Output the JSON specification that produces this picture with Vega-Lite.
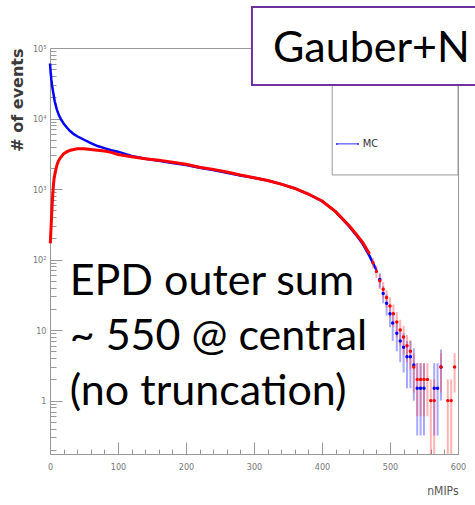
{
  "$schema": "https://vega.github.io/schema/vega-lite/v6.json",
  "width": 408,
  "height": 406,
  "autosize": {"type": "none"},
  "padding": {"left": 50, "top": 48, "right": 17, "bottom": 51},
  "background": "white",
  "config": {"view": {"stroke": "#999", "strokeWidth": 1}},
  "datasets": {
    "mc": [
      {"x":0,"y":60300},{"x":1,"y":44700},{"x":2,"y":35500},{"x":3,"y":29500},{"x":5,"y":22400},{"x":7,"y":17400},{"x":10,"y":13500},{"x":13,"y":11200},{"x":16,"y":9800},{"x":20,"y":8500},{"x":25,"y":7400},{"x":30,"y":6600},{"x":35,"y":6000},{"x":40,"y":5600},{"x":50,"y":5000},{"x":60,"y":4470},{"x":70,"y":4070},{"x":80,"y":3800},{"x":90,"y":3550},{"x":100,"y":3390},{"x":120,"y":2950},{"x":140,"y":2690},{"x":160,"y":2510},{"x":180,"y":2340},{"x":200,"y":2190},{"x":220,"y":2000},{"x":240,"y":1860},{"x":260,"y":1700},{"x":280,"y":1550},{"x":300,"y":1450},{"x":320,"y":1320},{"x":340,"y":1175},{"x":360,"y":1020},{"x":380,"y":850},{"x":400,"y":676},{"x":420,"y":479},{"x":440,"y":295},{"x":450,"y":224},{"x":460,"y":166},{"x":470,"y":112},{"x":480,"y":71}
    ],
    "dat": [
      {"x":0.5,"y":170},{"x":1,"y":220},{"x":2,"y":355},{"x":3,"y":560},{"x":4,"y":830},{"x":5,"y":1120},{"x":6,"y":1410},{"x":8,"y":1780},{"x":10,"y":2140},{"x":12,"y":2450},{"x":15,"y":2750},{"x":20,"y":3160},{"x":25,"y":3390},{"x":30,"y":3550},{"x":40,"y":3720},{"x":50,"y":3720},{"x":60,"y":3630},{"x":70,"y":3550},{"x":80,"y":3470},{"x":90,"y":3310},{"x":100,"y":3090},{"x":120,"y":2880},{"x":140,"y":2690},{"x":160,"y":2570},{"x":180,"y":2400},{"x":200,"y":2240},{"x":220,"y":2040},{"x":240,"y":1900},{"x":260,"y":1740},{"x":280,"y":1580},{"x":300,"y":1450},{"x":320,"y":1320},{"x":340,"y":1175},{"x":360,"y":1020},{"x":380,"y":850},{"x":400,"y":676},{"x":420,"y":479},{"x":440,"y":302},{"x":450,"y":230},{"x":460,"y":174},{"x":470,"y":120}
    ],
    "mcTail": [
      {"x":485,"y":52,"lo":40,"hi":64},{"x":490,"y":33,"lo":24,"hi":42},{"x":495,"y":24,"lo":16,"hi":32},{"x":500,"y":17,"lo":11,"hi":23},{"x":504,"y":12.6,"lo":7,"hi":18},{"x":510,"y":9,"lo":5,"hi":13},{"x":515,"y":7,"lo":3.5,"hi":10.5},{"x":520,"y":5.7,"lo":2.5,"hi":9},{"x":525,"y":4.2,"lo":1.5,"hi":7},{"x":530,"y":4.2,"lo":1.5,"hi":7},{"x":535,"y":3.2,"lo":1,"hi":5.5},{"x":540,"y":1.5,"lo":0.32,"hi":3.4},{"x":545,"y":1.5,"lo":0.32,"hi":3.4},{"x":550,"y":1.5,"lo":0.32,"hi":3.4},{"x":565,"y":1.5,"lo":0.32,"hi":3.4},{"x":570,"y":1.5,"lo":0.32,"hi":3.4},{"x":575,"y":3,"lo":1,"hi":5.3}
    ],
    "datTail": [
      {"x":475,"y":90,"lo":75,"hi":105},{"x":480,"y":68,"lo":55,"hi":82},{"x":485,"y":50,"lo":38,"hi":62},{"x":490,"y":38,"lo":28,"hi":48},{"x":495,"y":29,"lo":21,"hi":37},{"x":500,"y":22,"lo":15,"hi":29},{"x":505,"y":17,"lo":11,"hi":23},{"x":510,"y":13,"lo":8,"hi":18},{"x":515,"y":10,"lo":6,"hi":14},{"x":520,"y":8,"lo":4.5,"hi":11.5},{"x":525,"y":6,"lo":3.5,"hi":8.5},{"x":530,"y":5,"lo":2.8,"hi":7.2},{"x":535,"y":3,"lo":1.3,"hi":4.7},{"x":540,"y":2,"lo":0.6,"hi":3.4},{"x":545,"y":2,"lo":0.6,"hi":3.4},{"x":550,"y":2,"lo":0.6,"hi":3.4},{"x":555,"y":2,"lo":0.6,"hi":3.4},{"x":560,"y":1,"lo":0.01,"hi":2},{"x":565,"y":1,"lo":0.01,"hi":2},{"x":575,"y":3,"lo":1.3,"hi":4.7},{"x":585,"y":1,"lo":0.01,"hi":2},{"x":590,"y":1,"lo":0.01,"hi":2},{"x":595,"y":3,"lo":1.3,"hi":4.7}
    ],
    "notes": [
      {"x":29,"y":31.4,"t":"EPD outer sum"},{"x":29,"y":5.2,"t":"~ 550 @ central"},{"x":29,"y":0.863,"t":"(no truncation)"}
    ],
    "legendBox": [{"x":415,"x2":600,"y":1585,"y2":60000}],
    "legendLine": [{"x":422,"y":4370},{"x":453,"y":4370}],
    "legendLabel": [{"x":460,"y":4370,"t":"MC"}],
    "titleBox": [{"x":297,"x2":640,"y":29900,"y2":380000}],
    "titleText": [{"x":328,"y":63000,"t":"Gauber+N"}]
  },
  "resolve": {"axis": {"x": "independent", "y": "independent"}},
  "layer": [
    {
      "data": {"name": "mc"},
      "mark": {"type": "line", "color": "#0000ff", "strokeWidth": 2.5},
      "encoding": {
        "x": {"field": "x", "type": "quantitative", "scale": {"domain": [0, 600], "nice": false, "zero": false},
          "axis": {"orient": "bottom", "values": [0,100,200,300,400,500,600], "tickSize": -12, "labelPadding": 20, "labelFlush": false, "labelOverlap": false, "grid": false,
            "labelFont": "DejaVu Sans Condensed", "labelFontSize": 9, "labelColor": "#777", "domainColor": "#999", "tickColor": "#999",
            "title": "nMIPs", "titleFont": "DejaVu Sans Condensed", "titleFontSize": 12, "titleFontWeight": "normal", "titleColor": "#555", "titleAnchor": "end", "titlePadding": 14}},
        "y": {"field": "y", "type": "quantitative", "scale": {"type": "log", "domain": [0.175, 100000], "nice": false},
          "axis": {"orient": "left", "values": [1,10,100,1000,10000,100000], "tickSize": -12, "labelPadding": 16, "labelFlush": false, "labelOverlap": false, "grid": false,
            "labelExpr": "datum.value >= 99999 ? '10⁵' : datum.value >= 9999 ? '10⁴' : datum.value >= 999 ? '10³' : datum.value >= 99 ? '10²' : datum.value >= 9 ? '10' : '1'",
            "labelFont": "DejaVu Sans Condensed", "labelFontSize": 9, "labelColor": "#777", "domainColor": "#999", "tickColor": "#999",
            "title": "# of events", "titleFont": "DejaVu Sans", "titleFontSize": 16, "titleFontWeight": "bold", "titleColor": "#3a3a3a", "titleAnchor": "end", "titlePadding": 7}}
      }
    },
    {
      "data": {"name": "dat"},
      "mark": {"type": "line", "color": "#ff0000", "strokeWidth": 3},
      "encoding": {
        "x": {"field": "x", "type": "quantitative", "scale": {"domain": [0, 600], "nice": false, "zero": false},
          "axis": {"orient": "bottom", "values": [20,40,60,80,120,140,160,180,220,240,260,280,320,340,360,380,420,440,460,480,520,540,560,580], "tickSize": -5, "labels": false, "domain": false, "grid": false, "tickColor": "#999", "title": null}},
        "y": {"field": "y", "type": "quantitative", "scale": {"type": "log", "domain": [0.175, 100000], "nice": false},
          "axis": {"orient": "left", "values": [0.2,0.3,0.4,0.5,0.6,0.7,0.8,0.9,2,3,4,5,6,7,8,9,20,30,40,50,60,70,80,90,200,300,400,500,600,700,800,900,2000,3000,4000,5000,6000,7000,8000,9000,20000,30000,40000,50000,60000,70000,80000,90000], "tickSize": -6, "labels": false, "domain": false, "grid": false, "tickColor": "#999", "title": null}}
      }
    },
    {
      "data": {"name": "mcTail"},
      "mark": {"type": "rule", "color": "#4040ff", "opacity": 0.45, "strokeWidth": 2, "clip": true},
      "encoding": {
        "x": {"field": "x", "type": "quantitative", "scale": {"domain": [0, 600], "nice": false, "zero": false}, "axis": null},
        "y": {"field": "lo", "type": "quantitative", "scale": {"type": "log", "domain": [0.175, 100000], "nice": false}, "axis": null},
        "y2": {"field": "hi"}
      }
    },
    {
      "data": {"name": "datTail"},
      "mark": {"type": "rule", "color": "#ff4040", "opacity": 0.4, "strokeWidth": 2, "clip": true},
      "encoding": {
        "x": {"field": "x", "type": "quantitative", "scale": {"domain": [0, 600], "nice": false, "zero": false}, "axis": null},
        "y": {"field": "lo", "type": "quantitative", "scale": {"type": "log", "domain": [0.175, 100000], "nice": false}, "axis": null},
        "y2": {"field": "hi"}
      }
    },
    {
      "data": {"name": "mcTail"},
      "mark": {"type": "point", "filled": true, "color": "#0000ff", "size": 12, "opacity": 1},
      "encoding": {
        "x": {"field": "x", "type": "quantitative", "scale": {"domain": [0, 600], "nice": false, "zero": false}, "axis": null},
        "y": {"field": "y", "type": "quantitative", "scale": {"type": "log", "domain": [0.175, 100000], "nice": false}, "axis": null}
      }
    },
    {
      "data": {"name": "datTail"},
      "mark": {"type": "point", "filled": true, "color": "#ff0000", "size": 12, "opacity": 1},
      "encoding": {
        "x": {"field": "x", "type": "quantitative", "scale": {"domain": [0, 600], "nice": false, "zero": false}, "axis": null},
        "y": {"field": "y", "type": "quantitative", "scale": {"type": "log", "domain": [0.175, 100000], "nice": false}, "axis": null}
      }
    },
    {
      "data": {"name": "notes"},
      "mark": {"type": "text", "font": "Lato", "fontSize": 43, "align": "left", "baseline": "alphabetic", "color": "black"},
      "encoding": {
        "x": {"field": "x", "type": "quantitative", "scale": {"domain": [0, 600], "nice": false, "zero": false}, "axis": null},
        "y": {"field": "y", "type": "quantitative", "scale": {"type": "log", "domain": [0.175, 100000], "nice": false}, "axis": null},
        "text": {"field": "t"}
      }
    },
    {
      "data": {"name": "legendBox"},
      "mark": {"type": "rect", "fill": "white", "stroke": "#999", "strokeWidth": 1},
      "encoding": {
        "x": {"field": "x", "type": "quantitative", "scale": {"domain": [0, 600], "nice": false, "zero": false}, "axis": null},
        "x2": {"field": "x2"},
        "y": {"field": "y", "type": "quantitative", "scale": {"type": "log", "domain": [0.175, 100000], "nice": false}, "axis": null},
        "y2": {"field": "y2"}
      }
    },
    {
      "data": {"name": "legendLine"},
      "mark": {"type": "line", "color": "#3030ff", "strokeWidth": 1, "point": {"filled": true, "color": "#3030ff", "size": 4}},
      "encoding": {
        "x": {"field": "x", "type": "quantitative", "scale": {"domain": [0, 600], "nice": false, "zero": false}, "axis": null},
        "y": {"field": "y", "type": "quantitative", "scale": {"type": "log", "domain": [0.175, 100000], "nice": false}, "axis": null}
      }
    },
    {
      "data": {"name": "legendLabel"},
      "mark": {"type": "text", "font": "DejaVu Sans Condensed", "fontSize": 11, "align": "left", "baseline": "middle", "color": "#333"},
      "encoding": {
        "x": {"field": "x", "type": "quantitative", "scale": {"domain": [0, 600], "nice": false, "zero": false}, "axis": null},
        "y": {"field": "y", "type": "quantitative", "scale": {"type": "log", "domain": [0.175, 100000], "nice": false}, "axis": null},
        "text": {"field": "t"}
      }
    },
    {
      "data": {"name": "titleBox"},
      "mark": {"type": "rect", "fill": "white", "stroke": "#7030A0", "strokeWidth": 2},
      "encoding": {
        "x": {"field": "x", "type": "quantitative", "scale": {"domain": [0, 600], "nice": false, "zero": false}, "axis": null},
        "x2": {"field": "x2"},
        "y": {"field": "y", "type": "quantitative", "scale": {"type": "log", "domain": [0.175, 100000], "nice": false}, "axis": null},
        "y2": {"field": "y2"}
      }
    },
    {
      "data": {"name": "titleText"},
      "mark": {"type": "text", "font": "Lato", "fontSize": 43, "align": "left", "baseline": "alphabetic", "color": "black"},
      "encoding": {
        "x": {"field": "x", "type": "quantitative", "scale": {"domain": [0, 600], "nice": false, "zero": false}, "axis": null},
        "y": {"field": "y", "type": "quantitative", "scale": {"type": "log", "domain": [0.175, 100000], "nice": false}, "axis": null},
        "text": {"field": "t"}
      }
    }
  ]
}
